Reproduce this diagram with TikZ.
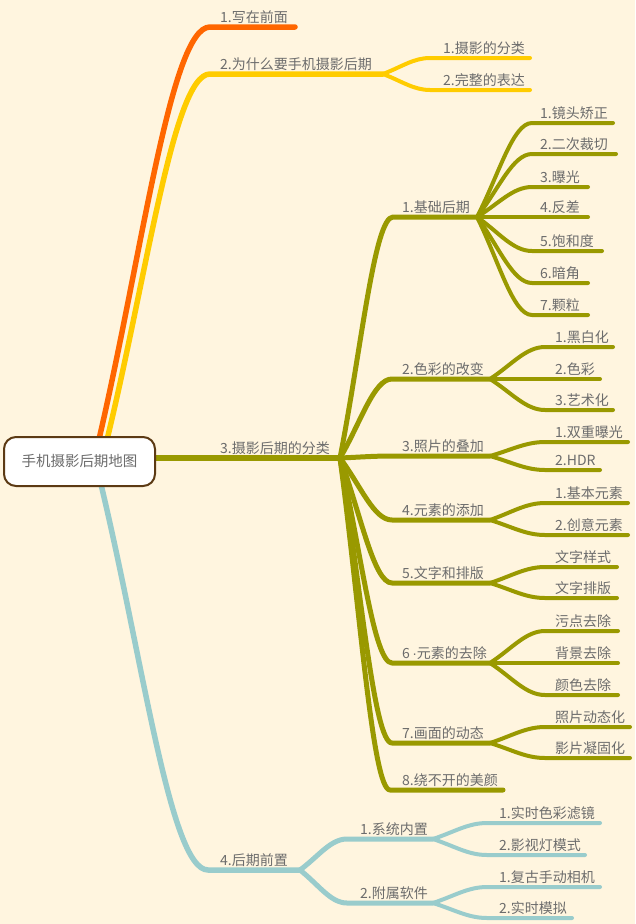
\documentclass[tikz,border=0pt]{standalone}
\usepackage{fontspec}
\setmainfont{Noto Sans CJK SC}
\newfontfamily\latf{Liberation Sans}
\usetikzlibrary{calc}
\definecolor{bgc}{RGB}{255,245,223}
\definecolor{cor}{RGB}{255,102,0}
\definecolor{cye}{RGB}{255,204,0}
\definecolor{col}{RGB}{153,153,0}
\definecolor{cte}{RGB}{153,204,204}
\definecolor{ctx}{RGB}{108,108,108}
\definecolor{cbr}{RGB}{92,58,20}
\pgfdeclarelayer{edges}
\pgfsetlayers{edges,main}
\tikzset{
  curvy/.style={to path={let \p1=(\tikztostart),\p2=(\tikztotarget) in
     .. controls +({0.4*(\x2-\x1)},{0.45*(\y2-\y1)}) and +({-0.35*(\x2-\x1)},0) .. (\tikztotarget)}},
  lbl/.style={text=ctx, font=\fontsize{14}{16}\selectfont, inner sep=0pt, anchor=base west},
  lv1/.style={line width=5.5pt, line cap=round, line join=round},
  lv2/.style={line width=5pt, line cap=round, line join=round},
  lv3/.style={line width=4pt, line cap=round, line join=round},
  rootbox/.style={draw=cbr, line width=2pt, fill=white, rounded corners=12pt,
     minimum width=151pt, minimum height=49pt, text=ctx, font=\fontsize{14.5}{17}\selectfont}
}
\newcommand\tp[6]{\coordinate (#1-s) at (#2,#4); \coordinate (#1-e) at (#3,#4);
  \node[lbl] (#1) at (#5,#4-5) {#6};}
\begin{document}
\begin{tikzpicture}[x=1pt,y=-1pt]
\useasboundingbox (0,0) rectangle (635,924);
\node[rootbox] (root) at (79.5,461.5) {手机摄影后期地图};
\coordinate (rOr) at (96,452);
\coordinate (rYe) at (104,452);
\coordinate (rTe) at (98,472);
% level 1
\tp{A}{210}{295}{27}{220}{1.写在前面}
\tp{B}{210}{383}{74}{220}{2.为什么要手机摄影后期}
\tp{C}{150}{340}{458}{220}{3.摄影后期的分类}
\tp{D}{208}{300}{870}{220}{4.后期前置}
% yellow children
\tp{Ba}{430}{530}{58}{443}{1.摄影的分类}
\tp{Bb}{430}{530}{90}{443}{2.完整的表达}
% olive level 2
\tp{Ca}{393}{477}{217}{402}{1.基础后期}
\tp{Cb}{392}{490}{379}{402}{2.色彩的改变}
\tp{Cc}{392}{490}{456}{402}{3.照片的叠加}
\tp{Cd}{392}{490}{520}{402}{4.元素的添加}
\tp{Ce}{392}{490}{583}{402}{5.文字和排版}
\tp{Cf}{392}{490}{663}{402}{6{\latf\,·}元素的去除}
\tp{Cg}{392}{490}{743}{402}{7.画面的动态}
\tp{Ch}{390}{503}{790}{402}{8.绕不开的美颜}
% olive level 3
\tp{Caa}{532}{613}{123}{540}{1.镜头矫正}
\tp{Cab}{532}{616}{154}{540}{2.二次裁切}
\tp{Cac}{532}{588}{187}{540}{3.曝光}
\tp{Cad}{532}{588}{217}{540}{4.反差}
\tp{Cae}{532}{602}{251}{540}{5.饱和度}
\tp{Caf}{532}{588}{283}{540}{6.暗角}
\tp{Cag}{532}{588}{315}{540}{7.颗粒}
\tp{Cba}{545}{613}{347}{555}{1.黑白化}
\tp{Cbb}{545}{600}{379}{555}{2.色彩}
\tp{Cbc}{545}{613}{410}{555}{3.艺术化}
\tp{Cca}{545}{628}{442}{555}{1.双重曝光}
\tp{Ccb}{545}{600}{470}{555}{2.HDR}
\tp{Cda}{545}{628}{503}{555}{1.基本元素}
\tp{Cdb}{545}{628}{535}{555}{2.创意元素}
\tp{Cea}{545}{617}{567}{555}{文字样式}
\tp{Ceb}{545}{617}{598}{555}{文字排版}
\tp{Cfa}{545}{618}{631}{555}{污点去除}
\tp{Cfb}{545}{618}{663}{555}{背景去除}
\tp{Cfc}{545}{618}{695}{555}{颜色去除}
\tp{Cga}{545}{630}{727}{555}{照片动态化}
\tp{Cgb}{545}{630}{758}{555}{影片凝固化}
% teal
\tp{Da}{347}{433}{839}{360}{1.系统内置}
\tp{Db}{347}{433}{903}{360}{2.附属软件}
\tp{Daa}{487}{600}{823}{499}{1.实时色彩滤镜}
\tp{Dab}{487}{585}{855}{499}{2.影视灯模式}
\tp{Dba}{487}{600}{887}{499}{1.复古手动相机}
\tp{Dbb}{487}{572}{918}{499}{2.实时模拟}
\begin{pgfonlayer}{edges}
\fill[bgc] (0,0) rectangle (635,924);
% level 1
\draw[lv1,cor] (rOr) to[curvy] (A-s) -- (A-e);
\draw[lv1,cye] (rYe) to[curvy] (B-s) -- (B-e);
\draw[lv1,col] (C-s) -- (C-e);
\draw[lv1,cte] (rTe) to[curvy] (D-s) -- (D-e);
% yellow
\foreach \k in {Ba,Bb}{\draw[lv3,cye] (B-e) to[curvy] (\k-s) -- (\k-e);}
% olive level 2
\foreach \k in {Ca,Cb,Cc,Cd,Ce,Cf,Cg,Ch}{\draw[lv2,col] (C-e) to[curvy] (\k-s) -- (\k-e);}
% olive level 3
\foreach \k in {Caa,Cab,Cac,Cad,Cae,Caf,Cag}{\draw[lv3,col] (Ca-e) to[curvy] (\k-s) -- (\k-e);}
\foreach \k in {Cba,Cbb,Cbc}{\draw[lv3,col] (Cb-e) to[curvy] (\k-s) -- (\k-e);}
\foreach \k in {Cca,Ccb}{\draw[lv3,col] (Cc-e) to[curvy] (\k-s) -- (\k-e);}
\foreach \k in {Cda,Cdb}{\draw[lv3,col] (Cd-e) to[curvy] (\k-s) -- (\k-e);}
\foreach \k in {Cea,Ceb}{\draw[lv3,col] (Ce-e) to[curvy] (\k-s) -- (\k-e);}
\foreach \k in {Cfa,Cfb,Cfc}{\draw[lv3,col] (Cf-e) to[curvy] (\k-s) -- (\k-e);}
\foreach \k in {Cga,Cgb}{\draw[lv3,col] (Cg-e) to[curvy] (\k-s) -- (\k-e);}
% teal
\foreach \k in {Da,Db}{\draw[lv2,cte] (D-e) to[curvy] (\k-s) -- (\k-e);}
\foreach \k in {Daa,Dab}{\draw[lv3,cte] (Da-e) to[curvy] (\k-s) -- (\k-e);}
\foreach \k in {Dba,Dbb}{\draw[lv3,cte] (Db-e) to[curvy] (\k-s) -- (\k-e);}
\end{pgfonlayer}
\end{tikzpicture}
\end{document}
